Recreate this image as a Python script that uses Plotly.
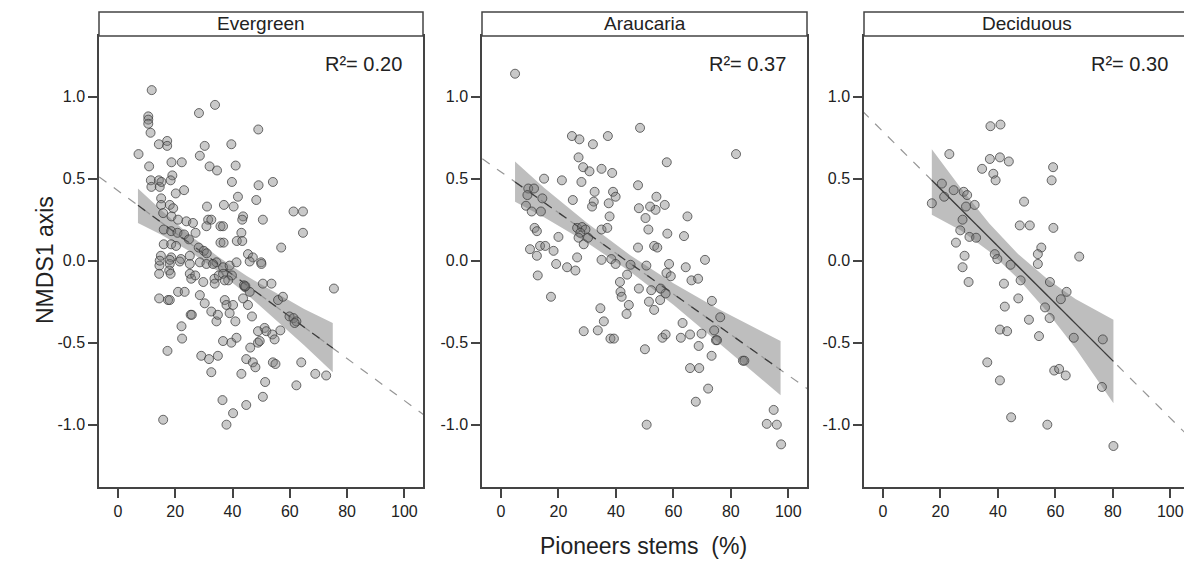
import plotly.graph_objects as go

# ---------------- data ----------------
panels = ["Evergreen", "Araucaria", "Deciduous"]
r2_labels = ["R²= 0.20", "R²= 0.37", "R²= 0.30"]

ever_x = [11.8, 10.6, 10.6, 10.6, 11.4, 28.3, 33.9, 49.0, 14.3, 17.2, 17.2, 30.3, 39.6, 7.2, 18.7, 22.3, 28.6,
          10.9, 32.0, 34.6, 41.1, 19.0, 18.4, 11.5, 14.3, 11.7, 14.6, 15.2, 39.8, 49.1, 54.1, 20.2, 23.1, 41.9,
          48.3, 15.1, 15.1, 18.1, 19.3, 31.1, 37.0, 40.4, 61.3, 64.6, 64.6, 15.8, 18.7, 21.0, 23.9, 26.2, 31.5,
          32.6, 30.9, 35.8, 36.7, 43.7, 43.4, 50.6, 43.1, 16.0, 18.6, 20.8, 23.1, 24.8, 27.1, 41.5, 43.4, 35.8,
          36.9, 16.0, 18.6, 20.3, 57.0, 28.2, 30.0, 31.0, 45.4, 47.1, 50.0, 15.0, 18.6, 22.0, 25.1, 14.5, 18.1,
          25.1, 28.6, 30.9, 34.4, 36.7, 39.0, 41.4, 14.6, 18.1, 21.6, 33.2, 46.0, 50.1, 14.4, 17.9, 18.4, 25.1,
          25.6, 27.0, 29.8, 33.7, 35.2, 36.7, 39.8, 38.5, 37.3, 33.8, 44.3, 46.0, 50.6, 53.6, 44.0, 44.5, 14.4,
          17.5, 18.1, 21.0, 23.3, 28.6, 30.3, 32.6, 34.4, 34.9, 37.3, 37.9, 40.2, 39.0, 41.0, 43.7, 45.4, 46.8,
          25.4, 25.8, 22.2, 22.4, 17.3, 29.1, 31.8, 34.9, 32.6, 36.7, 39.6, 41.4, 46.2, 48.9, 49.5, 48.9, 51.2,
          51.8, 53.9, 54.7, 56.7, 44.8, 47.1, 48.0, 43.1, 54.1, 55.0, 51.4, 50.6, 36.5, 44.8, 40.2, 37.9, 15.8,
          64.0, 62.3, 68.9, 72.7, 75.4, 59.9, 61.3, 62.3, 61.7, 55.9, 57.6]
ever_y = [1.04, 0.88, 0.86, 0.835, 0.78, 0.90, 0.95, 0.80, 0.71, 0.73, 0.70, 0.70, 0.71, 0.65, 0.60, 0.60, 0.64,
          0.575, 0.575, 0.55, 0.58, 0.52, 0.49, 0.49, 0.49, 0.45, 0.45, 0.48, 0.48, 0.46, 0.48, 0.41, 0.43, 0.39,
          0.37, 0.38, 0.34, 0.34, 0.32, 0.33, 0.34, 0.33, 0.30, 0.30, 0.17, 0.29, 0.27, 0.25, 0.24, 0.23, 0.25,
          0.25, 0.21, 0.21, 0.21, 0.27, 0.25, 0.25, 0.17, 0.19, 0.18, 0.17, 0.16, 0.13, 0.17, 0.12, 0.12, 0.11,
          0.11, 0.10, 0.10, 0.09, 0.08, 0.08, 0.06, 0.045, 0.04, 0.02, -0.01, 0.03, 0.02, 0.01, 0.03, -0.03, -0.02,
          -0.02, -0.01, -0.02, -0.01, -0.04, -0.03, -0.01, 0.00, 0.005, -0.005, -0.02, -0.005, -0.02, -0.08, -0.06,
          -0.08, -0.08, -0.11, -0.09, -0.13, -0.11, -0.09, -0.08, -0.09, -0.12, -0.12, -0.14, -0.16, -0.19, -0.14,
          -0.14, -0.15, -0.155, -0.23, -0.24, -0.24, -0.19, -0.19, -0.21, -0.26, -0.31, -0.37, -0.33, -0.24, -0.27,
          -0.27, -0.32, -0.37, -0.23, -0.27, -0.34, -0.33, -0.33, -0.40, -0.475, -0.55, -0.58, -0.60, -0.58, -0.68,
          -0.49, -0.50, -0.47, -0.53, -0.50, -0.49, -0.43, -0.41, -0.43, -0.45, -0.48, -0.425, -0.60, -0.62, -0.65,
          -0.69, -0.62, -0.63, -0.74, -0.83, -0.85, -0.88, -0.93, -1.00, -0.97, -0.62, -0.76, -0.69, -0.70, -0.17,
          -0.34, -0.35, -0.37, -0.38, -0.24, -0.22]

arau_x = [4.9, 24.7, 27.3, 32.0, 37.2, 48.4, 81.8, 57.7, 27.0, 28.6, 30.8, 35.0, 38.7, 15.0, 21.2, 28.0, 47.7, 9.5,
          11.5, 9.2, 14.4, 32.6, 39.0, 39.9, 25.0, 32.3, 31.7, 37.5, 54.1, 57.0, 53.8, 51.9, 48.0, 8.7, 10.7, 13.9,
          37.8, 50.3, 64.9, 51.3, 57.9, 63.7, 11.7, 12.5, 20.0, 26.5, 28.2, 29.4, 27.6, 27.0, 30.3, 28.8, 35.0, 37.0,
          10.1, 12.5, 13.6, 15.4, 18.3, 47.7, 53.3, 54.4, 26.5, 35.0, 38.4, 39.9, 19.2, 23.0, 25.9, 45.1, 50.6, 58.5,
          64.3, 71.0, 12.8, 17.4, 34.6, 35.8, 33.7, 28.8, 38.1, 39.3, 41.4, 41.6, 42.0, 44.5, 43.7, 43.9, 48.0, 51.5,
          53.3, 52.3, 55.4, 57.3, 55.6, 50.1, 50.7, 56.2, 57.3, 57.6, 59.1, 66.3, 68.6, 63.2, 62.6, 65.8, 65.8, 69.0,
          68.8, 69.8, 67.8, 72.1, 73.3, 73.4, 76.3, 74.2, 74.8, 75.2, 84.2, 84.7, 94.9, 92.5, 96.0, 97.5]
arau_y = [1.14, 0.76, 0.74, 0.71, 0.76, 0.81, 0.65, 0.60, 0.63, 0.57, 0.545, 0.56, 0.535, 0.50, 0.49, 0.48, 0.46,
          0.44, 0.44, 0.40, 0.38, 0.42, 0.42, 0.39, 0.37, 0.36, 0.33, 0.35, 0.39, 0.34, 0.31, 0.33, 0.32, 0.335, 0.30,
          0.30, 0.27, 0.26, 0.27, 0.19, 0.165, 0.15, 0.20, 0.18, 0.145, 0.20, 0.205, 0.19, 0.17, 0.14, 0.14, 0.10,
          0.19, 0.20, 0.07, 0.03, 0.09, 0.09, 0.06, 0.08, 0.09, 0.08, 0.02, 0.005, 0.01, -0.02, -0.02, -0.04, -0.06,
          -0.025, -0.03, -0.02, -0.04, 0.005, -0.09, -0.22, -0.29, -0.37, -0.425, -0.43, -0.475, -0.475, -0.13, -0.19,
          -0.22, -0.27, -0.325, -0.085, -0.17, -0.25, -0.30, -0.18, -0.24, -0.20, -0.17, -0.54, -1.00, -0.47, -0.45,
          -0.075, -0.095, -0.12, -0.11, -0.38, -0.47, -0.45, -0.655, -0.655, -0.52, -0.445, -0.86, -0.78, -0.58,
          -0.245, -0.345, -0.425, -0.485, -0.485, -0.61, -0.61, -0.91, -0.995, -1.00, -1.12]

deci_x = [37.4, 40.9, 23.1, 37.2, 40.7, 43.8, 34.5, 38.4, 39.2, 59.2, 58.7, 49.1, 20.5, 21.3, 24.6, 28.1, 29.3, 28.9,
          31.9, 17.0, 47.6, 51.1, 59.3, 27.7, 26.9, 30.1, 32.4, 25.4, 55.1, 53.9, 53.9, 68.3, 28.4, 27.7, 38.9, 39.8,
          44.4, 29.8, 42.1, 42.4, 47.1, 47.9, 50.8, 40.7, 43.2, 54.3, 56.4, 58.0, 58.1, 61.9, 63.9, 66.4, 76.5, 76.2,
          36.3, 40.7, 59.6, 61.3, 63.6, 44.6, 57.2, 80.2]
deci_y = [0.82, 0.83, 0.65, 0.62, 0.63, 0.605, 0.56, 0.53, 0.49, 0.57, 0.49, 0.36, 0.47, 0.39, 0.43, 0.42, 0.40, 0.33,
          0.34, 0.35, 0.215, 0.215, 0.20, 0.25, 0.185, 0.145, 0.14, 0.11, 0.08, 0.04, -0.02, 0.025, 0.03, -0.04, 0.04,
          0.01, -0.025, -0.13, -0.14, -0.28, -0.23, -0.12, -0.36, -0.42, -0.43, -0.46, -0.285, -0.35, -0.13, -0.235,
          -0.19, -0.47, -0.48, -0.77, -0.62, -0.73, -0.67, -0.66, -0.70, -0.955, -1.00, -1.13]

# fitted lines (intercept, slope) and the observed x-span of each fit
fit_intercept = [0.427, 0.541, 0.787]
fit_slope = [-0.0128, -0.0124, -0.01747]
fit_span = [(7.0, 75.0), (4.9, 97.3), (17.0, 80.2)]

# confidence bands
ever_band_x = [7, 15, 25, 35, 45, 55, 65, 75]
ever_band_up = [0.44, 0.31, 0.157, 0.024, -0.094, -0.197, -0.295, -0.38]
ever_band_lo = [0.23, 0.16, 0.057, -0.066, -0.204, -0.357, -0.515, -0.68]

arau_band_x = [4.9, 15, 30, 45, 60, 75, 97.3]
arau_band_up = [0.605, 0.445, 0.229, 0.033, -0.138, -0.289, -0.49]
arau_band_lo = [0.36, 0.265, 0.109, -0.067, -0.268, -0.489, -0.82]

deci_band_x = [17, 27, 37, 47, 57, 67, 80.2]
deci_band_up = [0.68, 0.445, 0.226, 0.041, -0.109, -0.234, -0.36]
deci_band_lo = [0.28, 0.185, 0.056, -0.109, -0.309, -0.534, -0.87]

y_ticks = [-1.0, -0.5, 0.0, 0.5, 1.0]
y_tick_text = ["-1.0", "-0.5", "0.0", "0.5", "1.0"]
x_ticks = [0, 20, 40, 60, 80, 100]

# ---------------- figure ----------------
# the page body adds an 8px offset, so the figure is sized to fit inside the window
OFF = 8
W, H = 1192 - OFF, 562 - OFF
P_LEFT, P_RIGHT, P_TOP, P_BOT = 99, 1189, 36, 487          # plot area in window pixels
ML, MR, MT = P_LEFT - OFF, (W + OFF) - P_RIGHT, P_TOP - OFF
MB = H - (P_BOT - OFF)
PW = P_RIGHT - P_LEFT
PH = P_BOT - P_TOP
px_dom = [(99, 423), (482, 807), (864, 1189)]
domains = [((a - P_LEFT) / PW, (b - P_LEFT) / PW) for a, b in px_dom]
XR = [-6.6, 106.5]
YR = [-1.38, 1.37]

points = [(ever_x, ever_y), (arau_x, arau_y), (deci_x, deci_y)]
bands = [(ever_band_x, ever_band_up, ever_band_lo),
         (arau_band_x, arau_band_up, arau_band_lo),
         (deci_band_x, deci_band_up, deci_band_lo)]
fit_dash = ["dash", "dash", "solid"]

FONT = "Liberation Sans, Arial, sans-serif"
fig = go.Figure()
for i in range(3):
    xa = "x" if i == 0 else f"x{i+1}"
    ya = "y" if i == 0 else f"y{i+1}"
    bx, bu, bl = bands[i]
    fig.add_trace(go.Scatter(x=list(bx) + list(bx)[::-1], y=list(bu) + list(bl)[::-1],
                             fill="toself", fillcolor="rgb(190,190,190)", line=dict(width=0),
                             mode="lines", hoverinfo="skip", showlegend=False, xaxis=xa, yaxis=ya))
    a, b = fit_intercept[i], fit_slope[i]
    ex = [XR[0] - 5, XR[1] + 5]
    fig.add_trace(go.Scatter(x=ex, y=[a + b * v for v in ex], mode="lines",
                             line=dict(color="rgb(150,150,150)", width=1.2, dash="dash"),
                             showlegend=False, hoverinfo="skip", xaxis=xa, yaxis=ya))
    s0, s1 = fit_span[i]
    fig.add_trace(go.Scatter(x=[s0, s1], y=[a + b * s0, a + b * s1], mode="lines",
                             line=dict(color="rgb(60,60,60)", width=1.3, dash=fit_dash[i]),
                             showlegend=False, hoverinfo="skip", xaxis=xa, yaxis=ya))
    px, py = points[i]
    fig.add_trace(go.Scatter(x=px, y=py, mode="markers",
                             marker=dict(size=9, color="rgba(120,120,120,0.4)",
                                         line=dict(color="rgba(60,60,60,0.75)", width=1)),
                             showlegend=False, xaxis=xa, yaxis=ya))

axis_common = dict(showline=True, mirror=True, linecolor="#444", linewidth=1.5, showgrid=False,
                   zeroline=False, ticks="outside", ticklen=9, tickwidth=2, tickcolor="#444",
                   tickfont=dict(family=FONT, size=16, color="#222"))
layout = dict(width=W, height=H, margin=dict(l=ML, r=MR, t=MT, b=MB, autoexpand=False),
              plot_bgcolor="white", paper_bgcolor="white", showlegend=False)
shapes = []
annotations = []
for i in range(3):
    xk = "xaxis" if i == 0 else f"xaxis{i+1}"
    yk = "yaxis" if i == 0 else f"yaxis{i+1}"
    xa = "x" if i == 0 else f"x{i+1}"
    ya = "y" if i == 0 else f"y{i+1}"
    layout[xk] = dict(domain=list(domains[i]), range=XR, anchor=ya, tickvals=x_ticks, **axis_common)
    layout[yk] = dict(domain=[0, 1], range=YR, anchor=xa, tickvals=y_ticks, ticktext=y_tick_text,
                      **axis_common)
    d0, d1 = domains[i]
    shapes.append(dict(type="rect", xref="paper", yref="paper", x0=d0, x1=d1, y0=1, y1=1 + 24 / PH,
                       fillcolor="white", line=dict(color="#444", width=1.5)))
    annotations.append(dict(xref="paper", yref="paper", x=(d0 + d1) / 2, y=1 + 12 / PH, text=panels[i],
                            showarrow=False, xanchor="center", yanchor="middle",
                            font=dict(family=FONT, size=19, color="#222")))
    annotations.append(dict(xref=xa, yref=ya, x=100, y=1.2, text=r2_labels[i], showarrow=False,
                            xanchor="right", yanchor="middle",
                            font=dict(family=FONT, size=20, color="#222")))

annotations.append(dict(xref="paper", yref="paper", x=(45 - P_LEFT) / PW, y=(P_BOT - 260) / PH,
                        text="NMDS1 axis", textangle=-90, showarrow=False,
                        xanchor="center", yanchor="middle", font=dict(family=FONT, size=23, color="#222")))
annotations.append(dict(xref="paper", yref="paper", x=(643 - P_LEFT) / PW, y=(P_BOT - 546) / PH,
                        text="Pioneers stems  (%)", showarrow=False,
                        xanchor="center", yanchor="middle", font=dict(family=FONT, size=23, color="#222")))
layout["shapes"] = shapes
layout["annotations"] = annotations
fig.update_layout(**layout)
fig.write_html("out.html")
